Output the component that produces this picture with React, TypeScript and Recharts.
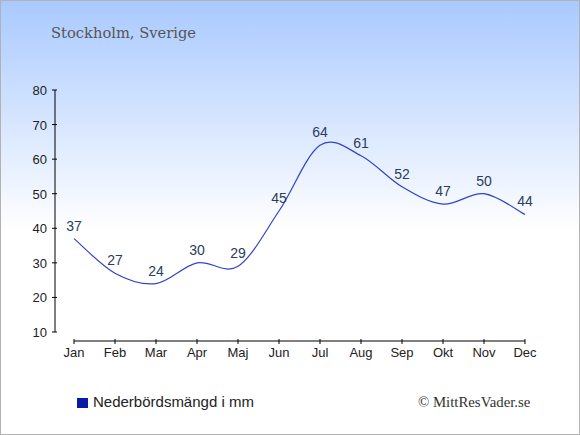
import React from 'react';
import { LineChart, Line, XAxis, YAxis, LabelList, ReferenceLine } from 'recharts';

const months = ['Jan', 'Feb', 'Mar', 'Apr', 'Maj', 'Jun', 'Jul', 'Aug', 'Sep', 'Okt', 'Nov', 'Dec'];
const precipitation = [37, 27, 24, 30, 29, 45, 64, 61, 52, 47, 50, 44];
const yTicks = [10, 20, 30, 40, 50, 60, 70, 80];
const title = 'Stockholm, Sverige';
const seriesName = 'Nederbördsmängd i mm';
const credit = '© MittResVader.se';

const data = months.map((m, i) => ({ month: m, value: precipitation[i] }));

// Catmull-Rom (cardinal, tension 0) curve factory
const catmullRom = (context: any) => {
  let xs: number[] = [];
  let ys: number[] = [];
  return {
    areaStart() {},
    areaEnd() {},
    lineStart() {
      xs = [];
      ys = [];
    },
    point(x: number, y: number) {
      xs.push(+x);
      ys.push(+y);
    },
    lineEnd() {
      const n = xs.length;
      if (!n) return;
      context.moveTo(xs[0], ys[0]);
      for (let i = 0; i < n - 1; i++) {
        const i0 = Math.max(i - 1, 0);
        const i3 = Math.min(i + 2, n - 1);
        context.bezierCurveTo(
          xs[i] + (xs[i + 1] - xs[i0]) / 6,
          ys[i] + (ys[i + 1] - ys[i0]) / 6,
          xs[i + 1] - (xs[i3] - xs[i]) / 6,
          ys[i + 1] - (ys[i3] - ys[i]) / 6,
          xs[i + 1],
          ys[i + 1]
        );
      }
    },
  };
};

const XTick = (props: any) => {
  const { x, y, payload } = props;
  return (
    <g>
      <line x1={x} x2={x} y1={y - 2} y2={y + 3} stroke="#000" strokeWidth={1} />
      <text x={x} y={y + 16} textAnchor="middle" fontSize={13} fill="#222" fontFamily="'Liberation Sans', Arial, sans-serif">
        {payload.value}
      </text>
    </g>
  );
};

const YTick = (props: any) => {
  const { x, y, payload } = props;
  return (
    <g>
      <line x1={x + 5} x2={x + 10} y1={y} y2={y} stroke="#000" strokeWidth={1} />
      <text x={x} y={y + 5} textAnchor="end" fontSize={13} fill="#222" fontFamily="'Liberation Sans', Arial, sans-serif">
        {payload.value}
      </text>
    </g>
  );
};

export default function App() {
  return (
    <div
      style={{
        position: 'relative',
        width: 580,
        height: 435,
        background: 'linear-gradient(to bottom, #a9c9ff 0%, #ffffff 53%, #ffffff 100%)',
        boxShadow: 'inset 0 0 0 1px #b2b2b2',
        overflow: 'hidden',
      }}
    >
      <style>{'body{margin:0}'}</style>
      <div
        style={{
          position: 'absolute',
          left: 51,
          top: 24,
          fontFamily: "'DejaVu Serif', Georgia, serif",
          fontSize: 14.7,
          color: '#555',
          whiteSpace: 'nowrap',
        }}
      >
        {title}
      </div>
      <div style={{ position: 'absolute', left: 0, top: 0 }}>
        <LineChart width={580} height={435} data={data} margin={{ top: 90, right: 55, left: 0, bottom: 64 }}>
          <XAxis
            dataKey="month"
            padding={{ left: 19, right: 0 }}
            axisLine={false}
            tickLine={false}
            tickSize={0}
            tickMargin={0}
            height={30}
            interval={0}
            tick={<XTick />}
          />
          <XAxis xAxisId="frame" type="number" domain={[0, 1]} allowDataOverflow hide />
          <YAxis
            domain={[10, 80]}
            ticks={yTicks}
            padding={{ top: 0, bottom: 9 }}
            axisLine={false}
            tickLine={false}
            tickSize={0}
            tickMargin={8}
            width={55}
            interval={0}
            tick={<YTick />}
          />
          <YAxis yAxisId="frame" type="number" domain={[0, 1]} allowDataOverflow hide />
          <ReferenceLine
            xAxisId="frame"
            segment={[{ x: 0, y: 10 }, { x: 0, y: 80 }]}
            stroke="#000"
            strokeWidth={1}
            ifOverflow="visible"
          />
          <ReferenceLine
            yAxisId="frame"
            segment={[{ x: months[0], y: 0 }, { x: months[months.length - 1], y: 0 }]}
            stroke="#000"
            strokeWidth={1}
            ifOverflow="visible"
          />
          <Line
            dataKey="value"
            type={catmullRom as any}
            stroke="#3442c8"
            strokeWidth={1.2}
            dot={false}
            activeDot={false}
            isAnimationActive={false}
          >
            <LabelList
              dataKey="value"
              position="top"
              offset={8}
              fontSize={14}
              fill="#2c3c5c"
              fontFamily="'Liberation Sans', Arial, sans-serif"
            />
          </Line>
        </LineChart>
      </div>
      <div
        style={{
          position: 'absolute',
          left: 77,
          top: 398,
          width: 11,
          height: 10,
          background: '#0a18a8',
        }}
      />
      <div
        style={{
          position: 'absolute',
          left: 93,
          top: 393,
          fontFamily: "'Liberation Sans', Arial, sans-serif",
          fontSize: 15,
          color: '#222',
          whiteSpace: 'nowrap',
          lineHeight: '18px',
        }}
      >
        {seriesName}
      </div>
      <div
        style={{
          position: 'absolute',
          left: 418,
          top: 394,
          fontFamily: "'Liberation Serif', 'Times New Roman', serif",
          fontSize: 14.8,
          color: '#333',
          whiteSpace: 'nowrap',
          lineHeight: '16px',
        }}
      >
        {credit}
      </div>
    </div>
  );
}
